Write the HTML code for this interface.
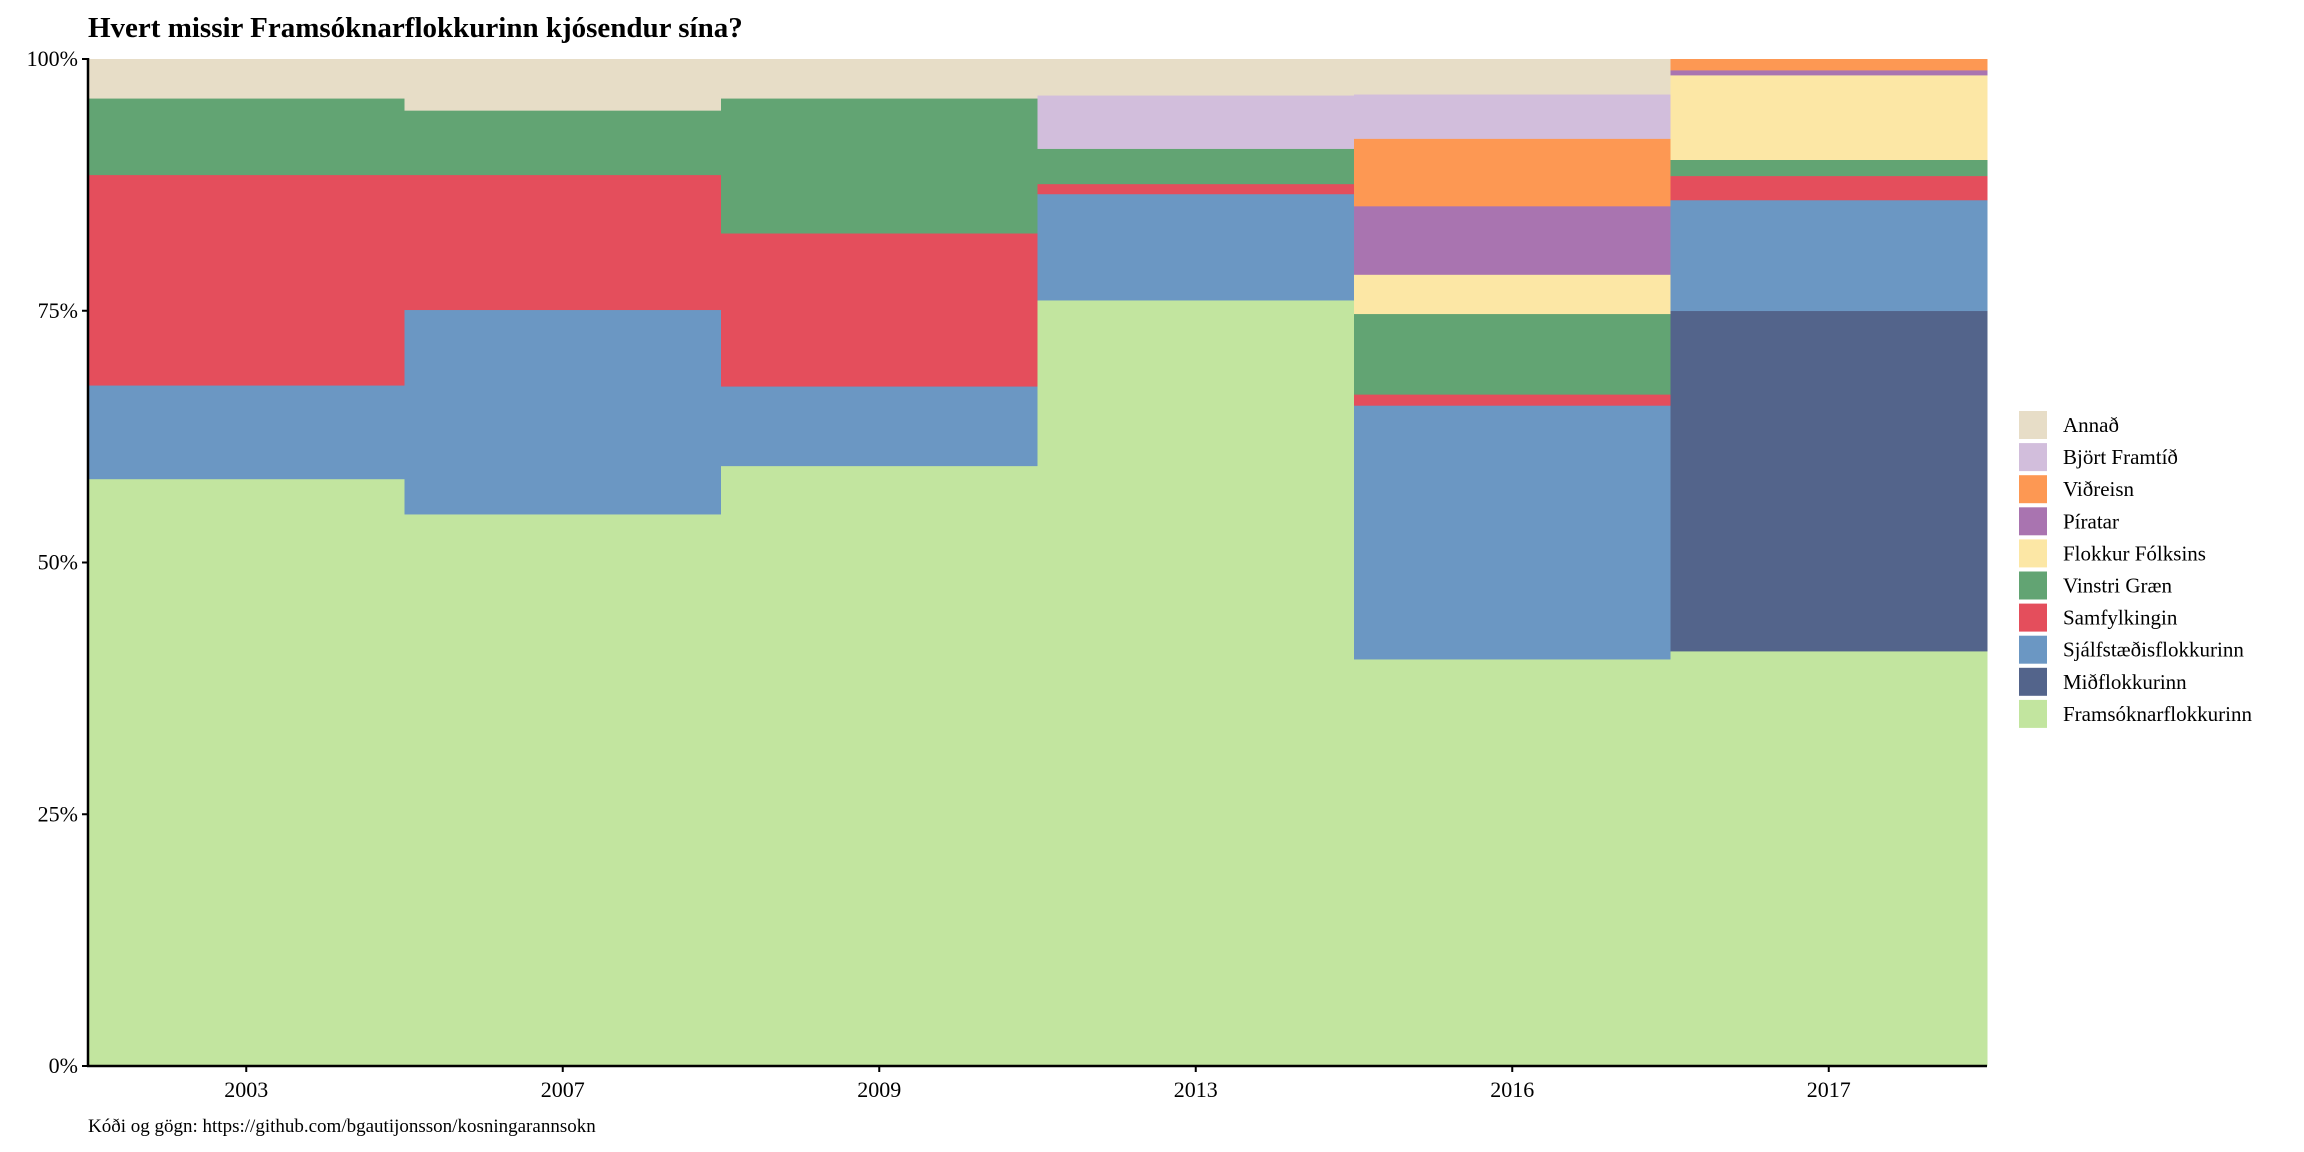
<!DOCTYPE html>
<html><head><meta charset="utf-8"><style>
body{margin:0;background:#fff;}
svg{display:block;font-family:"Liberation Serif",serif;}
</style></head><body>
<svg id="chart" width="2304" height="1152" viewBox="0 0 2304 1152">
<text x="88" y="37" font-size="29" font-weight="bold">Hvert missir Framsóknarflokkurinn kjósendur sína?</text>
<g id="bars"></g>
<g id="axes"></g>
<g id="legend"></g>
<text x="88" y="1132" font-size="19">Kóði og gögn: https://github.com/bgautijonsson/kosningarannsokn</text>
</svg>
<script>
const years = ["2003","2007","2009","2013","2016","2017"];
const parties = ["Framsóknarflokkurinn","Miðflokkurinn","Sjálfstæðisflokkurinn","Samfylkingin","Vinstri Græn","Flokkur Fólksins","Píratar","Viðreisn","Björt Framtíð","Annað"];
const colors = ["#c2e59f","#53648b","#6b97c3","#e44e5c","#62a473","#fce7a5","#a974b0","#fd9853","#d2bedc","#e7ddc7"];
const framsokn = [58.3,54.8,59.6,76.05,40.4,41.2];
const midflokkur = [0,0,0,0,0,33.8];
const sjalfstaedis = [9.3,20.3,7.9,10.55,25.2,11.0];
const samfylking = [20.9,13.4,15.2,1.0,1.1,2.4];
const vinstriGraen = [7.6,6.4,13.4,3.5,8.0,1.6];
const flokkurFolksins = [0,0,0,0,3.9,8.4];
const piratar = [0,0,0,0,6.8,0.5];
const vidreisn = [0,0,0,0,6.7,1.1];
const bjortFramtid = [0,0,0,5.3,4.4,0];
const annad = [3.9,5.1,3.9,3.6,3.5,0];
const series = [framsokn,midflokkur,sjalfstaedis,samfylking,vinstriGraen,flokkurFolksins,piratar,vidreisn,bjortFramtid,annad];
const yTicks = [0,25,50,75,100];
const yTickLabels = ["0%","25%","50%","75%","100%"];

const NS="http://www.w3.org/2000/svg";
const X0=88,X1=1987,Y0=1066,Y1=59;
const bw=(X1-X0)/years.length;
const xPos=i=>X0+i*bw;
const yPos=v=>Y0-(v/100)*(Y0-Y1);
function mk(tag,attrs,parent){const e=document.createElementNS(NS,tag);for(const k in attrs)e.setAttribute(k,attrs[k]);parent.appendChild(e);return e;}
const bars=document.getElementById('bars');
years.forEach((yr,i)=>{
  let total=0;series.forEach(s=>total+=s[i]);
  let cum=0;
  series.forEach((s,j)=>{
    const v=s[i]/total*100;
    if(v<=0)return;
    const r=mk('rect',{x:xPos(i),y:yPos(cum+v),width:bw+0.5,height:yPos(cum)-yPos(cum+v)+0.3,fill:colors[j]},bars);
    
    
    cum+=v;
  });
});
const ax=document.getElementById('axes');
mk('line',{x1:X0,y1:Y1-1,x2:X0,y2:Y0+1,stroke:'#000','stroke-width':2.5},ax);
mk('line',{x1:X0-1,y1:Y0,x2:X1,y2:Y0,stroke:'#000','stroke-width':2.5},ax);
yTicks.forEach((t,i)=>{
  const y=yPos(t);
  mk('line',{x1:X0-6,y1:y,x2:X0,y2:y,stroke:'#000','stroke-width':2},ax);
  const tx=mk('text',{x:X0-10,y:y+7,'font-size':22,'text-anchor':'end'},ax);
  tx.textContent=yTickLabels[i];
  
  
});
years.forEach((yr,i)=>{
  const x=xPos(i)+bw/2;
  mk('line',{x1:x,y1:Y0,x2:x,y2:Y0+6,stroke:'#000','stroke-width':2},ax);
  const tx=mk('text',{x:x,y:1097,'font-size':22,'text-anchor':'middle'},ax);
  tx.textContent=yr;
  
  
});
const lg=document.getElementById('legend');
const order=parties.map((p,i)=>i).reverse();
order.forEach((j,k)=>{
  const y=411+k*32.1;
  const g=mk('g',{},lg);
  
  
  mk('rect',{x:2019,y:y,width:28,height:28,fill:colors[j]},g);
  const t=mk('text',{x:2063,y:y+21,'font-size':21},g);
  t.textContent=parties[j];
});
</script>
</body></html>
